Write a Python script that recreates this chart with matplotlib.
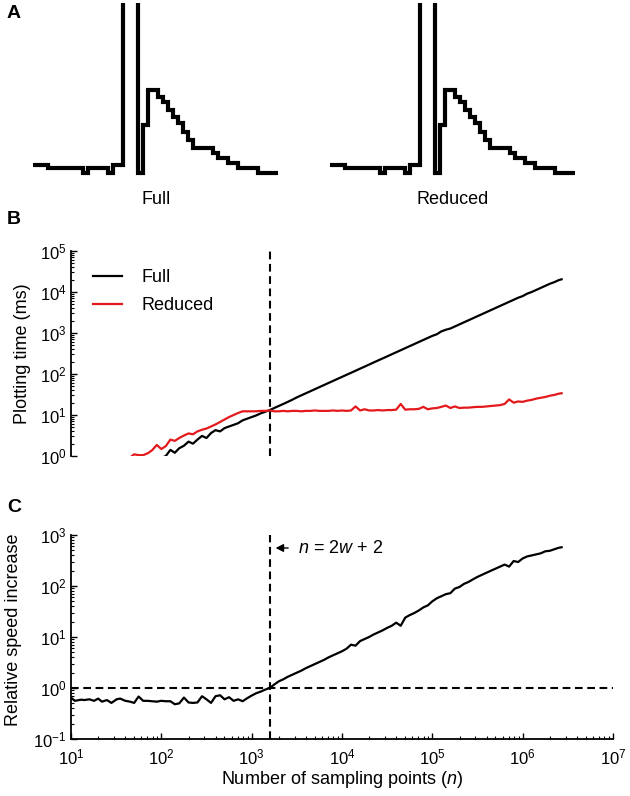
import matplotlib.pyplot as plt

plt.rcParams['font.family'] = ['Liberation Sans', 'DejaVu Sans']
plt.rcParams['mathtext.fontset'] = 'custom'
plt.rcParams['mathtext.rm'] = 'Liberation Sans'
plt.rcParams['mathtext.it'] = 'Liberation Sans:italic'
plt.rcParams['mathtext.bf'] = 'Liberation Sans:bold'

# panel A: one spike snippet, one value per sample (arbitrary units)
trace_full = [10, 10, 10, 7, 7, 7, 7, 7, 7, 7, 2, 7, 7, 7, 7, 2, 10, 10,
              400, 400, 400, 2, 50, 85, 85, 78, 73, 65, 58, 52, 43, 35,
              27, 27, 27, 27, 22, 17, 17, 12, 12, 7, 7, 7, 7, 2, 2, 2, 2]
trace_reduced = [10, 10, 10, 7, 7, 7, 7, 7, 7, 7, 2, 7, 7, 7, 7, 2, 10, 10,
                 400, 400, 400, 2, 50, 85, 85, 78, 73, 65, 58, 52, 43, 35,
                 27, 27, 27, 27, 22, 17, 17, 12, 12, 7, 7, 7, 7, 2, 2, 2, 2]
trace_labels = ['Full', 'Reduced']

# panels B and C
sampling_points = [
    10, 11, 13, 14, 16, 18, 20, 22, 25, 28, 32, 35, 40, 45, 50, 56, 63, 71, 79, 89,
    100, 112, 126, 141, 158, 178, 200, 224, 251, 282, 316, 355, 398, 447, 501, 562,
    631, 708, 794, 891,
    1000, 1122, 1259, 1413, 1585, 1778, 1995, 2239, 2512, 2818, 3162, 3548, 3981,
    4467, 5012, 5623, 6310, 7079, 7943, 8913,
    10000, 11220, 12589, 14125, 15849, 17783, 19953, 22387, 25119, 28184, 31623,
    35481, 39811, 44668, 50119, 56234, 63096, 70795, 79433, 89125,
    100000, 112202, 125893, 141254, 158489, 177828, 199526, 223872, 251189, 281838,
    316228, 354813, 398107, 446684, 501187, 562341, 630957, 707946, 794328, 891251,
    1000000, 1122018, 1258925, 1412538, 1584893, 1778279, 1995262, 2238721,
    2511886, 2700000,
]
time_full = [
    0.089, 0.10, 0.117, 0.12, 0.145, 0.155, 0.18, 0.195, 0.23, 0.24, 0.29, 0.31,
    0.36, 0.39, 0.46, 0.49, 0.58, 0.62, 0.72, 0.76,
    0.89, 1.00, 1.41, 1.20, 1.55, 1.78, 2.24, 2.00, 2.51, 3.09, 2.75, 3.63, 4.27,
    3.98, 4.79, 5.25, 5.75, 6.31, 7.41, 8.13,
    8.91, 9.77, 10.96, 12.0, 13.2, 14.8, 16.6, 18.6, 20.9, 23.6, 26.9, 30.2, 33.9,
    38.0, 42.7, 47.9, 53.7, 60.3, 67.6, 75.9,
    85.1, 95.5, 107, 120, 135, 151, 170, 191, 214, 240, 269, 302, 339, 380, 427,
    479, 537, 603, 676, 759,
    851, 933, 1096, 1202, 1288, 1445, 1622, 1820, 2042, 2291, 2570, 2884, 3236,
    3631, 4074, 4571, 5129, 5754, 6457, 7244,
    7943, 9120, 10000, 11220, 12589, 14125, 15849, 17378, 19498, 20417,
]
time_reduced = [
    0.24, 0.26, 0.28, 0.32, 0.35, 0.39, 0.43, 0.50, 0.52, 0.60, 0.66, 0.72, 0.81,
    0.91, 1.10, 1.05, 1.05, 1.17, 1.38, 1.86,
    1.48, 1.74, 2.51, 2.34, 2.75, 3.16, 3.55, 3.39, 3.98, 4.37, 4.68, 5.25, 5.89,
    6.76, 7.76, 8.91, 10.0, 11.2, 12.3, 12.3,
    12.3, 12.3, 12.6, 12.6, 12.9, 12.3, 12.3, 12.6, 12.3, 12.6, 12.6, 12.3, 12.6,
    12.6, 12.9, 12.6, 12.6, 12.6, 12.9, 12.6,
    12.9, 12.6, 12.9, 16.2, 12.9, 13.8, 12.9, 12.9, 13.2, 12.9, 13.2, 13.2, 13.5,
    18.6, 13.5, 13.8, 13.8, 14.1, 15.8, 13.8,
    14.5, 14.8, 15.8, 17.0, 14.8, 16.2, 14.8, 15.1, 15.1, 15.5, 15.8, 15.8, 16.2,
    16.6, 17.0, 17.4, 18.6, 24.0, 20.0, 21.4,
    20.9, 22.4, 23.4, 25.1, 26.3, 27.5, 29.5, 30.9, 33.1, 33.9,
]
speed_increase = [
    0.65, 0.56, 0.59, 0.58, 0.60, 0.56, 0.62, 0.54, 0.58, 0.51, 0.60, 0.62, 0.56,
    0.54, 0.51, 0.68, 0.56, 0.56, 0.55, 0.54,
    0.56, 0.55, 0.55, 0.48, 0.50, 0.65, 0.52, 0.51, 0.52, 0.69, 0.60, 0.51, 0.69,
    0.72, 0.60, 0.66, 0.56, 0.60, 0.55, 0.63,
    0.71, 0.79, 0.85, 0.93, 1.00, 1.17, 1.35, 1.48, 1.66, 1.82, 2.00, 2.19, 2.45,
    2.69, 2.95, 3.24, 3.55, 3.98, 4.37, 4.79,
    5.25, 5.89, 7.08, 6.76, 8.32, 9.12, 10.0, 11.2, 12.3, 13.5, 15.1, 16.6, 19.1,
    16.6, 24.0, 26.9, 29.5, 33.1, 38.0, 41.7,
    50.1, 57.5, 63.1, 69.2, 72.4, 89.1, 95.5, 110, 120, 135, 151, 166, 182, 200,
    219, 240, 263, 240, 309, 295,
    347, 380, 398, 417, 437, 479, 490, 525, 562, 575,
]
crossover = 1600  # n = 2w + 2
x_ticks = [1e1, 1e2, 1e3, 1e4, 1e5, 1e6, 1e7]
time_ticks = [1e0, 1e1, 1e2, 1e3, 1e4, 1e5]
speed_ticks = [1e-1, 1e0, 1e1, 1e2, 1e3]

W, H = 630, 796
fig = plt.figure(figsize=(W / 100, H / 100), dpi=100)


def px_axes(x0, y0, x1, y1):
    return fig.add_axes((x0 / W, 1 - y1 / H, (x1 - x0) / W, (y1 - y0) / H))


def fig_text(x, y, s, **kw):
    fig.text(x / W, 1 - y / H, s, ha='center', va='center', **kw)


dash = (0, (3.7, 2.2))

# ---- A
for trace, label, x0 in zip([trace_full, trace_reduced], trace_labels, [30.5, 327.5]):
    ax = px_axes(x0, 3, x0 + 250, 178)
    ax.stairs(trace, baseline=None, color='black', linewidth=3)
    ax.set_xlim(-0.5, len(trace) + 0.5)
    ax.set_ylim(-3, 172)
    ax.set_axis_off()
    fig_text(x0 + 125.5, 199, label, fontsize=13)


def style_log_axes(ax, yticks):
    ax.set_xscale('log')
    ax.set_yscale('log')
    ax.set_xticks(x_ticks)
    ax.set_yticks(yticks)
    ax.set_xlim(10, 1e7)
    ax.set_ylim(yticks[0], yticks[-1])
    for side in ('top', 'right'):
        ax.spines[side].set_visible(False)
    for side in ('left', 'bottom'):
        ax.spines[side].set_linewidth(1.3)
    ax.tick_params(which='major', direction='in', length=4, width=1,
                   labelsize=12, pad=3)
    ax.tick_params(which='minor', direction='in', length=2, width=0.8)
    ax.tick_params(axis='x', which='major', pad=6)
    ax.tick_params(which='both', top=False, right=False)


# ---- B
ax_b = px_axes(71, 251, 613, 456)
style_log_axes(ax_b, time_ticks)
ax_b.plot(sampling_points, time_full, color='black', linewidth=1.6, label='Full')
ax_b.plot(sampling_points, time_reduced, color='#e3191c', linewidth=1.6,
          label='Reduced')
ax_b.axvline(crossover, color='black', linewidth=1.5, linestyle=dash)
ax_b.spines['bottom'].set_visible(False)
ax_b.tick_params(axis='x', which='both', bottom=False, labelbottom=False)
ax_b.set_ylabel('Plotting time (ms)', fontsize=13, va='center')
ax_b.yaxis.set_label_coords((23 - 71) / 542, 0.5)
ax_b.legend(loc='upper left', bbox_to_anchor=((93 - 71) / 542, 0.91),
            frameon=False, fontsize=13, borderpad=0, borderaxespad=0,
            handlelength=1.6, handletextpad=1.1, labelspacing=0.6)

# ---- C
ax_c = px_axes(71, 535, 613, 739)
style_log_axes(ax_c, speed_ticks)
ax_c.plot(sampling_points, speed_increase, color='black', linewidth=1.6)
ax_c.axvline(crossover, color='black', linewidth=1.5, linestyle=dash)
ax_c.axhline(1, color='black', linewidth=1.5, linestyle=dash)
ax_c.set_ylabel('Relative speed increase', fontsize=13, va='center')
ax_c.yaxis.set_label_coords((14 - 71) / 542, (739 - 630) / 204)
ax_c.set_xlabel(r'Number of sampling points ($n$)', fontsize=13, va='center')
ax_c.xaxis.set_label_coords(0.5, -(780 - 739) / 204)
ax_c.annotate(r'$n$ = 2$w$ + 2', xy=(crossover, 556), xytext=(20, 0),
              textcoords='offset points', va='center', fontsize=13,
              arrowprops=dict(arrowstyle='-|>,head_length=0.35,head_width=0.18',
                              color='black', linewidth=1, shrinkA=5, shrinkB=4))

fig_text(14, 14, 'A', fontsize=14, fontweight='bold')
fig_text(14, 219, 'B', fontsize=14, fontweight='bold')
fig_text(14, 508, 'C', fontsize=14, fontweight='bold')

fig.savefig('out.png', dpi=100)
